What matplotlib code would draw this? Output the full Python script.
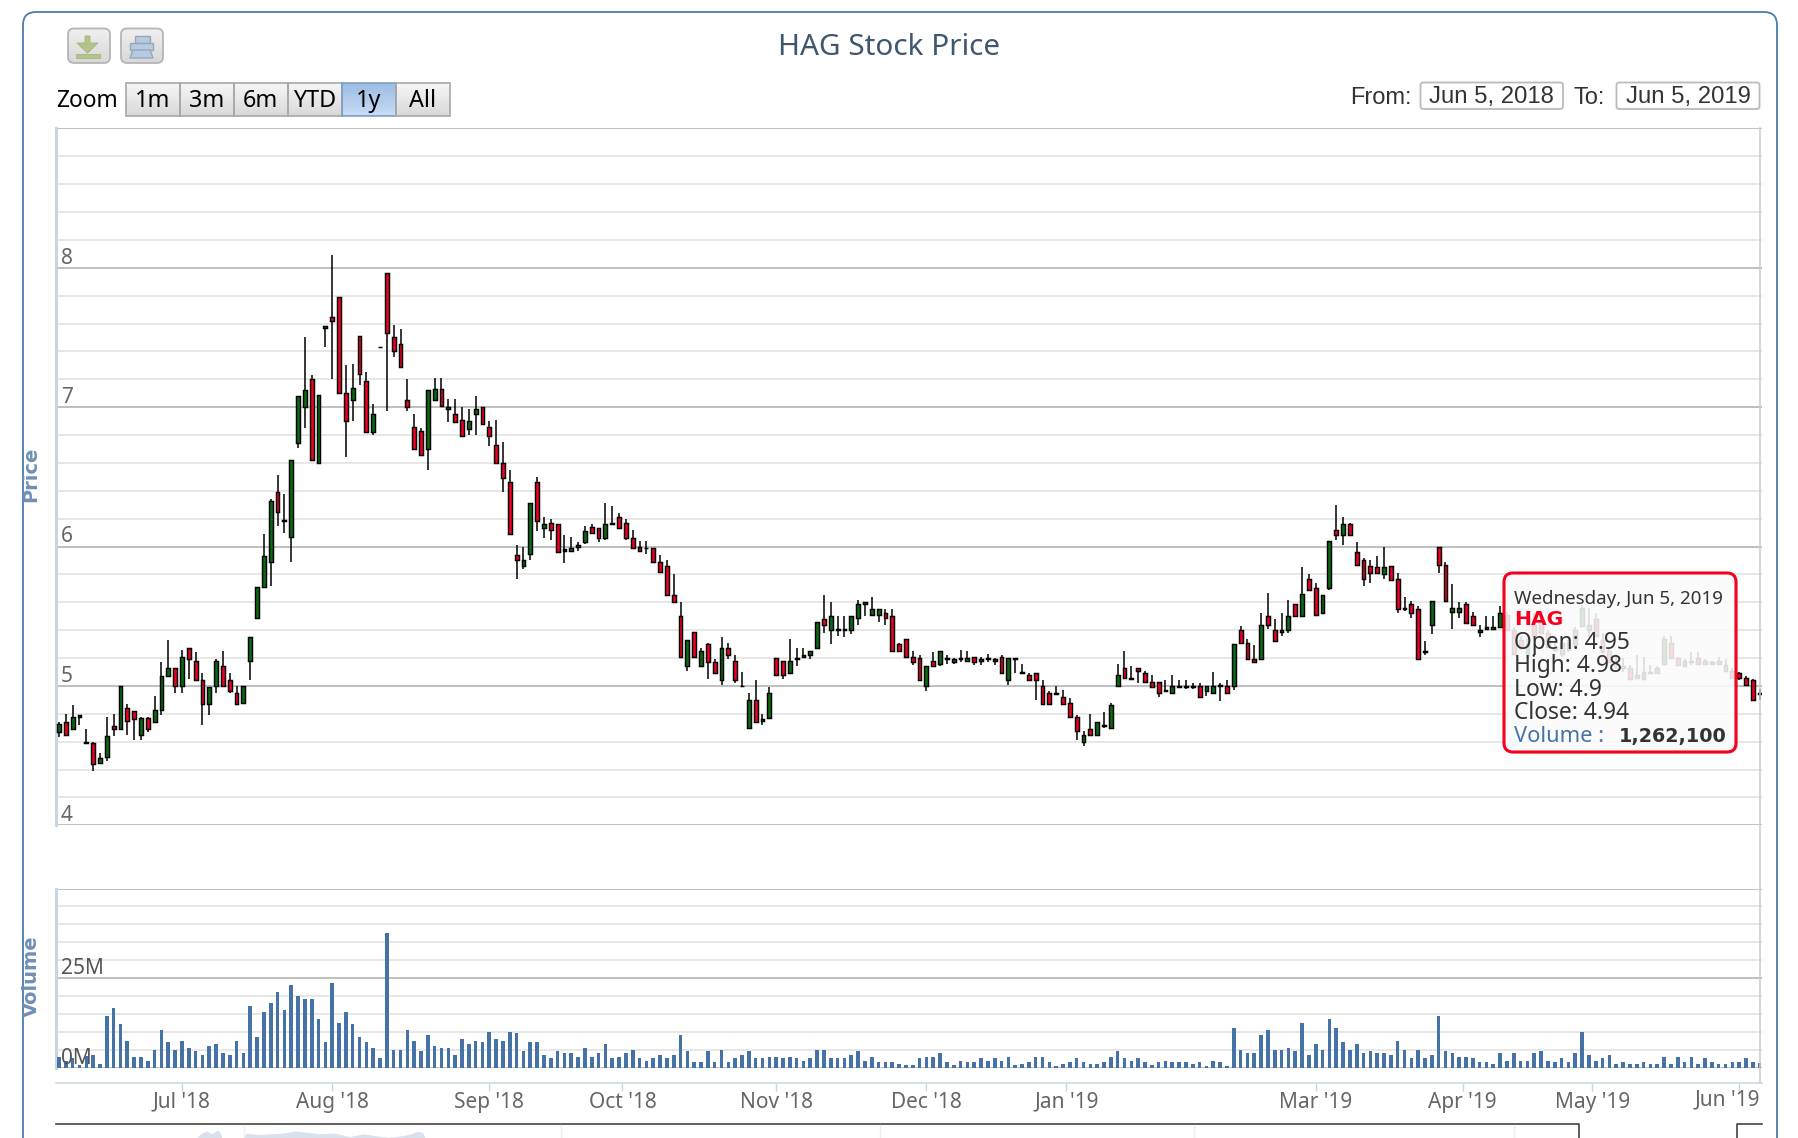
import numpy as np
import matplotlib
matplotlib.use("Agg")
import matplotlib.pyplot as plt
from matplotlib.patches import FancyBboxPatch, Polygon, Rectangle

W, H = 1798, 1138

# trading days
opens = [
    4.67,4.74,4.69,4.78,4.59,4.59,4.45,4.49,4.71,4.69,
    4.84,4.82,4.65,4.77,4.74,4.83,5.07,5.13,5.00,5.27,
    5.18,5.04,4.87,5.00,5.14,5.04,4.95,4.88,5.18,5.49,
    5.71,5.89,6.39,6.18,6.07,6.74,7.00,7.20,6.60,7.57,
    7.65,7.79,7.10,7.05,7.51,7.19,6.82,7.43,7.96,7.50,
    7.45,7.05,6.86,6.83,6.70,7.05,7.13,6.99,6.95,6.91,
    6.84,6.95,7.00,6.86,6.73,6.60,6.46,5.94,5.86,5.95,
    6.46,6.13,6.17,6.16,5.97,5.97,6.00,6.03,6.14,6.13,
    6.06,6.16,6.21,6.17,6.06,6.00,5.99,5.99,5.89,5.86,
    5.65,5.50,5.14,5.39,5.14,5.30,5.17,5.04,5.27,5.18,
    5.00,4.70,4.90,4.75,4.77,5.20,5.18,5.09,5.19,5.21,
    5.22,5.27,5.48,5.40,5.40,5.40,5.40,5.49,5.59,5.51,
    5.51,5.52,5.50,5.30,5.34,5.21,5.20,5.00,5.18,5.16,
    5.19,5.17,5.19,5.18,5.21,5.18,5.19,5.18,5.21,5.04,
    5.19,5.09,5.08,5.09,5.00,4.95,4.94,4.92,4.88,4.78,
    4.60,4.69,4.65,4.71,4.70,5.00,5.13,5.05,5.13,5.09,
    5.03,5.03,4.96,4.95,4.99,4.99,4.99,5.00,4.96,4.95,
    5.00,5.00,5.00,5.40,5.31,5.19,5.19,5.50,5.40,5.39,
    5.40,5.59,5.50,5.77,5.70,5.52,5.70,6.12,6.08,6.16,
    5.96,5.90,5.86,5.85,5.80,5.86,5.77,5.55,5.59,5.55,
    5.24,5.44,6.00,5.87,5.53,5.53,5.59,5.50,5.39,5.41,
    5.41,5.42,5.51,5.40,5.33,5.22,5.44,5.47,5.38,5.28,
    5.23,5.26,5.29,5.43,5.40,5.48,5.33,5.25,5.18,5.13,
    5.13,5.06,5.05,5.09,5.09,5.16,5.31,5.20,5.18,5.17,
    5.20,5.18,5.16,5.18,5.15,5.11,5.09,5.06,5.04,4.95,
]
highs = [
    4.74,4.80,4.86,4.79,4.69,4.60,4.52,4.78,4.80,5.00,
    4.87,4.82,4.78,4.78,4.93,5.17,5.33,5.13,5.26,5.27,
    5.24,5.09,4.99,5.19,5.25,5.09,5.00,5.00,5.35,5.71,
    6.09,6.34,6.51,6.38,6.62,7.08,7.50,7.23,7.09,7.58,
    8.09,7.79,7.30,7.31,7.51,7.25,7.02,7.43,7.96,7.59,
    7.56,7.20,6.95,6.85,7.12,7.21,7.21,7.06,7.06,7.00,
    6.99,7.08,7.00,6.90,6.91,6.75,6.55,6.01,6.00,6.31,
    6.50,6.21,6.20,6.16,6.08,6.07,6.03,6.15,6.16,6.13,
    6.31,6.29,6.24,6.20,6.12,6.04,6.04,5.99,5.94,5.90,
    5.80,5.60,5.33,5.39,5.27,5.31,5.19,5.35,5.31,5.22,
    5.10,4.95,5.04,4.80,4.99,5.20,5.18,5.34,5.27,5.27,
    5.25,5.46,5.65,5.60,5.50,5.50,5.50,5.62,5.60,5.64,
    5.55,5.55,5.55,5.31,5.34,5.25,5.22,5.14,5.24,5.25,
    5.22,5.20,5.26,5.25,5.21,5.21,5.23,5.20,5.22,5.20,
    5.20,5.16,5.09,5.09,5.04,4.96,5.00,4.97,4.91,4.79,
    4.68,4.80,4.74,4.81,4.88,5.16,5.25,5.14,5.13,5.11,
    5.08,5.03,5.04,5.08,5.04,5.04,5.02,5.02,5.00,5.10,
    5.02,5.04,5.30,5.43,5.34,5.29,5.52,5.67,5.48,5.52,
    5.62,5.59,5.85,5.80,5.74,5.65,6.04,6.30,6.21,6.17,
    6.03,5.92,5.90,5.93,6.00,5.86,5.81,5.64,5.61,5.57,
    5.32,5.61,6.00,5.89,5.73,5.60,5.60,5.53,5.44,5.50,
    5.50,5.57,5.53,5.42,5.36,5.34,5.52,5.49,5.40,5.32,
    5.33,5.33,5.42,5.58,5.56,5.52,5.38,5.28,5.23,5.20,
    5.15,5.22,5.21,5.15,5.14,5.36,5.36,5.21,5.19,5.24,
    5.24,5.19,5.18,5.21,5.19,5.13,5.10,5.07,5.05,4.98,
]
lows = [
    4.63,4.65,4.69,4.72,4.58,4.39,4.45,4.46,4.64,4.69,
    4.65,4.61,4.61,4.67,4.74,4.79,5.07,4.95,4.95,5.05,
    5.04,4.72,4.79,4.95,5.00,4.95,4.87,4.88,5.04,5.49,
    5.71,5.72,6.15,6.10,5.89,6.71,6.85,6.62,6.60,7.43,
    7.20,7.10,6.64,6.90,7.16,6.82,6.80,7.43,6.97,7.36,
    7.29,6.97,6.70,6.66,6.55,7.05,7.01,6.89,6.89,6.79,
    6.80,6.80,6.88,6.72,6.60,6.39,6.09,5.77,5.84,5.90,
    6.11,6.06,6.05,5.96,5.88,5.97,5.97,6.02,6.10,6.03,
    6.05,6.16,6.13,6.05,5.99,5.97,5.95,5.89,5.82,5.65,
    5.60,5.21,5.11,5.21,5.14,5.05,5.09,5.01,5.19,5.02,
    5.00,4.70,4.74,4.72,4.77,5.08,5.05,5.09,5.14,5.21,
    5.19,5.27,5.38,5.30,5.36,5.35,5.37,5.44,5.50,5.51,
    5.46,5.44,5.25,5.25,5.21,5.15,5.04,4.96,5.14,5.14,
    5.16,5.16,5.17,5.18,5.15,5.15,5.17,5.15,5.09,5.01,
    5.09,5.09,5.04,4.90,4.87,4.87,4.94,4.87,4.78,4.61,
    4.57,4.65,4.65,4.70,4.69,5.00,5.06,5.05,5.02,5.03,
    4.99,4.92,4.96,4.95,4.99,4.98,4.98,4.92,4.93,4.95,
    4.89,4.95,4.97,5.31,5.19,5.17,5.19,5.41,5.32,5.36,
    5.38,5.50,5.50,5.69,5.50,5.52,5.69,6.05,6.01,6.08,
    5.86,5.72,5.74,5.81,5.77,5.76,5.52,5.54,5.49,5.19,
    5.22,5.37,5.81,5.61,5.41,5.49,5.45,5.44,5.35,5.41,
    5.41,5.42,5.40,5.23,5.26,5.20,5.35,5.38,5.28,5.24,
    5.21,5.24,5.27,5.43,5.35,5.36,5.23,5.17,5.12,5.10,
    5.05,5.05,5.05,5.09,5.09,5.16,5.19,5.15,5.14,5.15,
    5.16,5.16,5.15,5.16,5.11,5.06,5.04,5.01,4.90,4.90,
]
closes = [
    4.73,4.65,4.78,4.79,4.60,4.44,4.48,4.64,4.69,5.00,
    4.75,4.76,4.77,4.69,4.83,5.07,5.13,5.00,5.21,5.19,
    5.04,4.87,4.99,5.18,5.00,4.96,4.87,5.00,5.35,5.71,
    5.93,6.33,6.25,6.19,6.62,7.08,7.12,6.62,7.09,7.58,
    7.62,7.10,6.90,7.14,7.24,6.82,6.95,7.43,7.53,7.40,
    7.29,7.00,6.70,6.66,7.12,7.13,7.01,7.00,6.89,6.79,
    6.90,6.99,6.88,6.79,6.60,6.49,6.09,5.90,5.90,6.31,
    6.18,6.16,6.12,5.96,5.98,5.99,6.01,6.11,6.10,6.06,
    6.16,6.17,6.13,6.06,5.99,5.97,5.99,5.89,5.82,5.65,
    5.60,5.21,5.33,5.21,5.25,5.17,5.09,5.27,5.22,5.04,
    5.00,4.90,4.74,4.76,4.95,5.08,5.08,5.18,5.20,5.22,
    5.25,5.46,5.44,5.50,5.41,5.41,5.50,5.59,5.60,5.55,
    5.55,5.49,5.25,5.25,5.21,5.17,5.04,5.14,5.14,5.25,
    5.20,5.19,5.20,5.20,5.17,5.19,5.20,5.19,5.09,5.20,
    5.20,5.10,5.04,5.04,4.87,4.87,4.95,4.87,4.78,4.68,
    4.65,4.65,4.74,4.72,4.86,5.08,5.06,5.06,5.11,5.03,
    4.99,4.95,4.97,5.00,5.00,5.00,5.00,4.92,5.00,5.00,
    5.01,4.95,5.30,5.31,5.19,5.17,5.44,5.44,5.32,5.40,
    5.50,5.50,5.66,5.69,5.51,5.65,6.04,6.08,6.16,6.08,
    5.87,5.77,5.81,5.81,5.85,5.76,5.55,5.56,5.52,5.19,
    5.25,5.61,5.87,5.61,5.56,5.56,5.45,5.44,5.40,5.42,
    5.42,5.52,5.40,5.23,5.27,5.30,5.36,5.38,5.28,5.26,
    5.31,5.31,5.40,5.56,5.44,5.36,5.25,5.17,5.15,5.14,
    5.05,5.08,5.10,5.10,5.13,5.34,5.20,5.15,5.14,5.18,
    5.16,5.16,5.17,5.16,5.11,5.06,5.06,5.01,4.90,4.94,
]
# volume in millions
volumes = [
    3.1,1.9,2.8,0.9,3.2,3.6,1.1,14.5,16.6,12.1,
    7.5,3.1,3.1,2.0,5.0,10.6,7.1,5.0,7.5,5.6,
    4.6,3.6,6.1,6.6,4.1,3.6,7.5,4.1,17.1,8.6,
    15.6,18.1,21.1,16.1,23.1,20.1,19.1,19.1,13.7,7.1,
    23.6,12.6,15.6,12.1,8.6,7.1,5.6,2.6,37.6,5.0,
    5.0,10.6,7.5,4.6,9.1,6.1,5.6,5.6,3.6,8.1,
    6.6,7.5,7.1,10.1,8.1,7.5,10.1,9.6,4.6,7.1,
    7.1,3.6,2.6,4.6,4.1,4.1,3.1,5.6,3.1,4.1,
    6.6,2.6,3.1,4.1,5.0,2.6,2.0,2.6,3.6,2.6,
    3.6,9.1,4.6,1.6,1.6,4.6,1.6,5.0,1.6,2.6,
    3.6,4.6,2.6,2.6,3.1,3.1,2.6,3.1,2.6,2.0,
    2.6,5.0,5.0,2.6,2.6,2.6,3.6,4.6,2.0,3.1,
    1.6,1.6,1.6,1.1,0.9,0.9,2.6,3.1,3.1,4.1,
    1.6,0.9,2.0,1.6,1.6,2.6,2.0,2.6,2.0,3.1,
    0.9,1.1,1.6,3.1,3.1,1.6,0.6,1.1,1.6,2.6,
    1.6,1.1,1.1,1.6,3.1,4.6,2.6,2.0,2.6,1.6,
    0.9,1.6,2.0,1.6,1.6,1.6,1.1,1.6,0.6,2.0,
    1.6,0.6,11.1,5.0,4.1,4.1,9.1,10.6,5.0,5.0,
    5.6,4.6,12.6,3.6,6.6,5.0,13.7,11.1,7.1,5.0,
    6.6,4.1,4.6,4.1,4.1,3.6,7.5,5.0,2.6,5.0,
    2.6,3.6,14.5,4.6,4.1,3.1,3.1,2.6,1.6,1.6,
    1.1,4.1,2.0,4.1,2.0,2.0,4.1,4.6,2.0,1.6,
    2.6,1.6,4.1,10.1,3.6,2.0,2.6,3.6,1.1,1.6,
    1.1,1.1,1.6,1.1,1.1,3.1,1.1,3.1,1.6,3.1,
    1.1,2.6,1.6,1.1,1.1,1.6,1.6,2.6,1.6,1.26,
]
month_ticks = [18, 40, 63, 82.5, 105, 127, 147.5, 184, 205.5, 224.5]
month_labels = ["Jul '18", "Aug '18", "Sep '18", "Oct '18", "Nov '18", "Dec '18",
                "Jan '19", "Mar '19", "Apr '19", "May '19"]
last_tick = 246
last_label = "Jun '19"
price_ticks = [4, 5, 6, 7, 8]
volume_ticks = [0, 25]
volume_tick_labels = ["0M", "25M"]
range_buttons = ["1m", "3m", "6m", "YTD", "1y", "All"]

# pale overview series along the bottom edge
nav_pos = [0.082, 0.085, 0.088, 0.091, 0.094, 0.096, 0.097, 0.110, 0.111, 0.118, 0.125, 0.133, 0.140, 0.147,
           0.155, 0.163, 0.172, 0.180, 0.188, 0.195, 0.202, 0.208, 0.212, 0.215, 0.216]
nav_vals = [0, 3.5, 5, 3, 5.5, 4, 0, 0, 3.5, 2.5, 3, 3.5, 5, 4, 3, 3.5, 1, 3, 1.5, 0.5, 1.5, 3, 5, 3.5, 0]

GRID_MAJOR = "#bcbcbc"
GRID_MINOR = "#e4e4e4"
TEXT_GRAY = "#666666"
AXIS_BLUE = "#c7d6e5"
BORDER = "#4a7cad"
VOL_BLUE = "#4572a7"
UP = "#0b6b12"
DOWN = "#f00022"

plt.rcParams['font.family'] = ['Noto Sans', 'DejaVu Sans']
BOLD_FONT = ['DejaVu Sans']


def px_axes(fig, x0, y0, x1, y1, **kw):
    # pixel box (y measured from the top) to figure fraction
    return fig.add_axes([x0 / W, 1 - y1 / H, (x1 - x0) / W, (y1 - y0) / H], **kw)


fig = plt.figure(figsize=(W / 100, H / 100), dpi=100, facecolor="white")

PLOT_L, PLOT_R = 56.5, 1762
STEP = 6.83
FIRST = 59
xlim = ((PLOT_L - FIRST) / STEP, (PLOT_R - FIRST) / STEP)

ax = px_axes(fig, PLOT_L, 128.4, PLOT_R, 825.3)
ax_vol = px_axes(fig, PLOT_L, 888.5, PLOT_R, 1067.8)
ax_nav = px_axes(fig, PLOT_L, 1124, PLOT_R, 1138)
ui = fig.add_axes([0, 0, 1, 1], zorder=10)
ui.set_xlim(0, W)
ui.set_ylim(H, 0)
ui.axis("off")
ui.patch.set_alpha(0)

# candles
x = np.arange(len(opens))
o, h, l, c = map(np.array, (opens, highs, lows, closes))
colors = [UP if cc >= oo else DOWN for oo, cc in zip(o, c)]
ax.vlines(x, l, h, color="black", lw=1.1, zorder=3)
ax.bar(x, np.abs(c - o), bottom=np.minimum(o, c), width=0.56, color=colors,
       edgecolor="black", linewidth=1.05, zorder=4)
ax.set_xlim(*xlim)
ax.set_ylim(4, 9)
ax.set_yticks(np.arange(4, 9.01, 1))
ax.set_yticks(np.arange(4, 9.01, 0.2), minor=True)

# volume
ax_vol.bar(x, volumes, width=0.53, color=VOL_BLUE, zorder=3)
ax_vol.set_xlim(*xlim)
ax_vol.set_ylim(0, 50)
ax_vol.set_yticks([0, 25, 50])
ax_vol.set_yticks(np.arange(0, 50.1, 5), minor=True)

for a in (ax, ax_vol):
    a.set_axisbelow(True)
    a.grid(True, which="minor", axis="y", color=GRID_MINOR, lw=1.25)
    a.grid(True, which="major", axis="y", color=GRID_MAJOR, lw=1.35)
    a.tick_params(axis="y", which="both", length=0, labelleft=False)
    for s in a.spines.values():
        s.set_visible(False)
    a.spines["left"].set_visible(True)
    a.spines["left"].set_color(AXIS_BLUE)
    a.spines["left"].set_linewidth(2.2)

ax.tick_params(axis="x", which="both", length=0, labelbottom=False)

# value labels sit just above their grid line, inside the plot
for v in price_ticks:
    ax.annotate(str(v), xy=(0, v), xycoords=("axes fraction", "data"), xytext=(3, 3),
                textcoords="offset points", fontsize=15, color=TEXT_GRAY, zorder=6)
for v, lab in zip(volume_ticks, volume_tick_labels):
    ax_vol.annotate(lab, xy=(0, v), xycoords=("axes fraction", "data"), xytext=(3, 3),
                    textcoords="offset points", fontsize=15, color="#555555", zorder=6)

# time axis sits a little below the volume panel
ax_vol.spines["bottom"].set_visible(True)
ax_vol.spines["bottom"].set_position(("outward", 10.6))
ax_vol.spines["bottom"].set_color(AXIS_BLUE)
ax_vol.spines["bottom"].set_linewidth(1.1)
ax_vol.set_xticks(month_ticks + [last_tick])
ax_vol.set_xticklabels(month_labels + [""], fontsize=15, color=TEXT_GRAY)
ax_vol.tick_params(axis="x", length=6, width=1.0, color=AXIS_BLUE, pad=0.5)
ui.text(1760, 1100, last_label, ha="right", va="center", fontsize=15, color=TEXT_GRAY)

ui.text(31, 474, "Price", rotation=90, ha="center", va="center", fontsize=14,
        fontweight="bold", family=BOLD_FONT, color="#6f90b6")
ui.text(31, 976, "Volume", rotation=90, ha="center", va="center", fontsize=14,
        fontweight="bold", family=BOLD_FONT, color="#6f90b6")
ui.plot([1760, 1760], [127.7, 1083], color="#cccccc", lw=1.1)

# overview strip
ax_nav.fill_between(nav_pos, nav_vals, 0, color="#d9e1ec", lw=0)
ax_nav.set_xlim(0, 1)
ax_nav.set_ylim(0, 10)
ax_nav.axis("off")
ui.plot([PLOT_L - 1, 1579, 1579], [1124, 1124, 1140], color="#444444", lw=1.2)
ui.plot([1762, 1736.5, 1736.5], [1124, 1124, 1140], color="#444444", lw=1.2)
for xv in (244, 561, 880, 1194, 1514):
    ui.plot([xv, xv], [1125, 1138], color="#eeeeee", lw=1.0)

# outer panel
ui.add_patch(FancyBboxPatch((23, 12), 1754, 1300, boxstyle="round,pad=0,rounding_size=13",
                            fc="none", ec=BORDER, lw=1.3))

ui.text(889, 47, "HAG Stock Price", ha="center", va="center", fontsize=21.4, color="#3e576f")


def gradient(x0, y0, x1, y1, top, bottom, zorder=1):
    im = ui.imshow(np.linspace(0, 1, 32).reshape(-1, 1), extent=(x0, x1, y1, y0), aspect="auto",
                   cmap=matplotlib.colors.LinearSegmentedColormap.from_list("b", [top, bottom]),
                   zorder=zorder)
    ui.set_xlim(0, W)
    ui.set_ylim(H, 0)
    return im


# export buttons
for bx in (68, 121):
    clip = FancyBboxPatch((bx, 28.5), 42, 34.5, boxstyle="round,pad=0,rounding_size=6",
                          fc="none", ec="#b5b5b5", lw=1.3, zorder=3)
    ui.add_patch(clip)
    im = gradient(bx, 28.5, bx + 42, 63, "#f0f0f0", "#d8d8d8")
    im.set_clip_path(clip)
ui.add_patch(Polygon([(85, 36), (90, 36), (90, 43), (98, 43), (87.5, 53), (77, 43), (85, 43)],
                     fc="#b2c48a", ec="#a3b578", lw=0.6, zorder=4))
ui.add_patch(Rectangle((76, 54), 23.5, 4, fc="#b2c48a", ec="#a3b578", lw=0.6, zorder=4))
ui.add_patch(Rectangle((134.5, 36), 15, 7, fc="#b4cbe3", ec="#9aa6b3", lw=1.0, zorder=4))
ui.add_patch(Rectangle((130, 43), 23, 7, fc="#b4cbe3", ec="#9aa6b3", lw=1.0, zorder=4))
ui.add_patch(Polygon([(133, 50), (150, 50), (153, 58), (130, 58)], fc="#b4cbe3", ec="#9aa6b3",
                     lw=1.0, zorder=4))

# range selector
ui.text(56, 101, "Zoom", ha="left", va="center", fontsize=16.4, color="black")
for i, lab in enumerate(range_buttons):
    bx0 = 125.5 + i * 54
    selected = lab == "1y"
    gradient(bx0, 82.5, bx0 + 54, 115.5, "#9dbde3" if selected else "#f6f6f6",
             "#c8dbf5" if selected else "#d9d9d9")
    ui.add_patch(Rectangle((bx0, 82.5), 54, 33, fc="none",
                           ec="#7d9fc4" if selected else "#a8a8a8", lw=1.2, zorder=3))
    ui.text(bx0 + 27, 100.5, lab, ha="center", va="center", fontsize=16.8, color="black", zorder=4)

# date range inputs
date_font = ["Liberation Sans", "DejaVu Sans"]
ui.text(1350, 97.5, "From:", ha="left", va="center", fontsize=17, family=date_font, color="#333333")
ui.text(1573, 97.5, "To:", ha="left", va="center", fontsize=17, family=date_font, color="#333333")
for bx0, bx1, lab in ((1420.5, 1563, "Jun 5, 2018"), (1616.5, 1759.5, "Jun 5, 2019")):
    ui.add_patch(FancyBboxPatch((bx0, 82.5), bx1 - bx0, 26.5, boxstyle="round,pad=0,rounding_size=2.5",
                                fc="white", ec="#bbbbbb", lw=1.3))
    ui.text((bx0 + bx1) / 2, 97, lab, ha="center", va="center", fontsize=17.2, family=date_font,
            color="#333333")

# tooltip for the last bar
ui.add_patch(FancyBboxPatch((1506, 575), 232, 179, boxstyle="round,pad=0,rounding_size=9",
                            fc="#000000", alpha=0.10, ec="none", zorder=5))
ui.add_patch(FancyBboxPatch((1504, 573), 232, 179, boxstyle="round,pad=0,rounding_size=9",
                            fc=(1, 1, 1, 0.86), ec="#f5001e", lw=2.2, zorder=6))
ui.text(1514, 599, "Wednesday, Jun 5, 2019", ha="left", va="center", fontsize=13.5, color="#333333", zorder=7)
ui.text(1514, 619, "HAG", ha="left", va="center", fontsize=14.6, fontweight="bold", family=BOLD_FONT,
        color="#f5001e", zorder=7)
tip_lines = ["Open: 4.95", "High: 4.98", "Low: 4.9", "Close: 4.94"]
for i, line in enumerate(tip_lines):
    ui.text(1514, 643 + i * 23.4, line, ha="left", va="center", fontsize=16.4, color="#333333", zorder=7)
ui.text(1514, 736, "Volume :", ha="left", va="center", fontsize=15.7, color=VOL_BLUE, zorder=7)
ui.text(1619, 736, "1,262,100", ha="left", va="center", fontsize=13.8, fontweight="bold", family=BOLD_FONT,
        color="#333333", zorder=7)

fig.savefig("out.png", dpi=100, facecolor="white")
